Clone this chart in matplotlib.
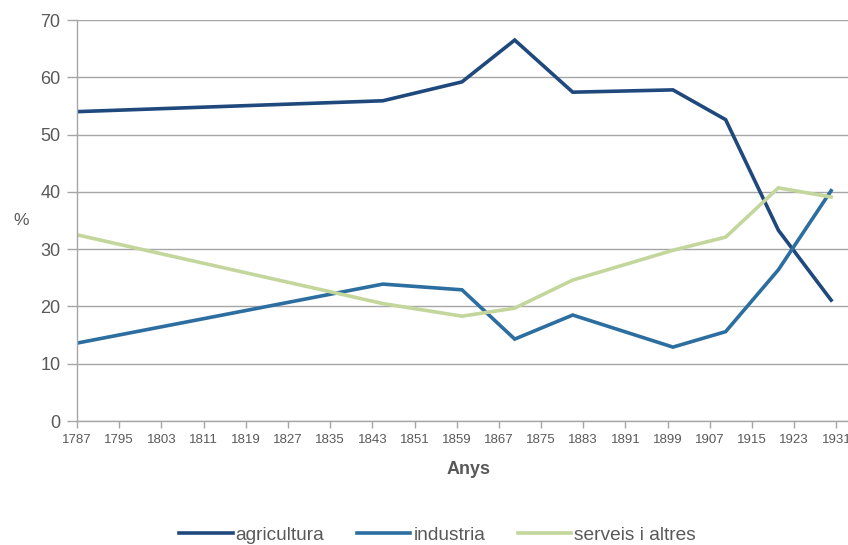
import matplotlib
matplotlib.use("Agg")
import matplotlib.pyplot as plt

plt.rcParams["font.family"] = ["Liberation Sans", "DejaVu Sans"]

# Data
anys = [1787, 1845, 1860, 1870, 1881, 1900, 1910, 1920, 1930]
agricultura = [54.0, 55.9, 59.2, 66.5, 57.4, 57.8, 52.6, 33.3, 21.1]
industria = [13.6, 23.9, 22.9, 14.3, 18.5, 12.9, 15.6, 26.4, 40.2]
serveis = [32.5, 20.5, 18.3, 19.7, 24.6, 29.8, 32.1, 40.7, 39.1]

xticks = list(range(1787, 1932, 8))
yticks = list(range(0, 71, 10))

text_col = "#595959"
grid_col = "#a6a6a6"

fig = plt.figure(figsize=(8.48, 5.45), dpi=100)
ax = fig.add_axes([0.0908, 0.2275, 0.9092, 0.7358])

ax.plot(anys, agricultura, color="#1f497d", lw=2.6, label="agricultura",
        solid_joinstyle="miter")
ax.plot(anys, industria, color="#2c6ea0", lw=2.6, label="industria",
        solid_joinstyle="miter")
ax.plot(anys, serveis, color="#c3d69b", lw=2.6, label="serveis i altres",
        solid_joinstyle="miter")

ax.set_xlim(1787, 1933.2)
ax.set_ylim(0, 70)
ax.set_xticks(xticks)
ax.set_yticks(yticks)
ax.tick_params(axis="x", labelsize=9.5, colors=text_col, color=grid_col,
               length=5, width=1, pad=4)
ax.tick_params(axis="y", labelsize=13, colors=text_col, color=grid_col,
               length=7, width=1, pad=5)
ax.yaxis.grid(True, color=grid_col, lw=1)
ax.set_axisbelow(True)

for s in ["top", "right"]:
    ax.spines[s].set_visible(False)
for s in ["left", "bottom"]:
    ax.spines[s].set_color(grid_col)
    ax.spines[s].set_linewidth(1)

ax.set_ylabel("%", rotation=0, fontsize=12.5, color=text_col, labelpad=14,
              va="center")
fig.text(469 / 848, 1 - 470 / 545, "Anys", fontsize=13, fontweight="bold",
         color=text_col, ha="center", va="center")

fig.legend(loc="center", bbox_to_anchor=(437.5 / 848, 1 - 535 / 545), ncol=3,
           frameon=False, fontsize=13.8, handlelength=2.8, handletextpad=0.15,
           columnspacing=1.7, labelcolor=text_col, borderpad=0)

fig.savefig("out.png", dpi=100)
